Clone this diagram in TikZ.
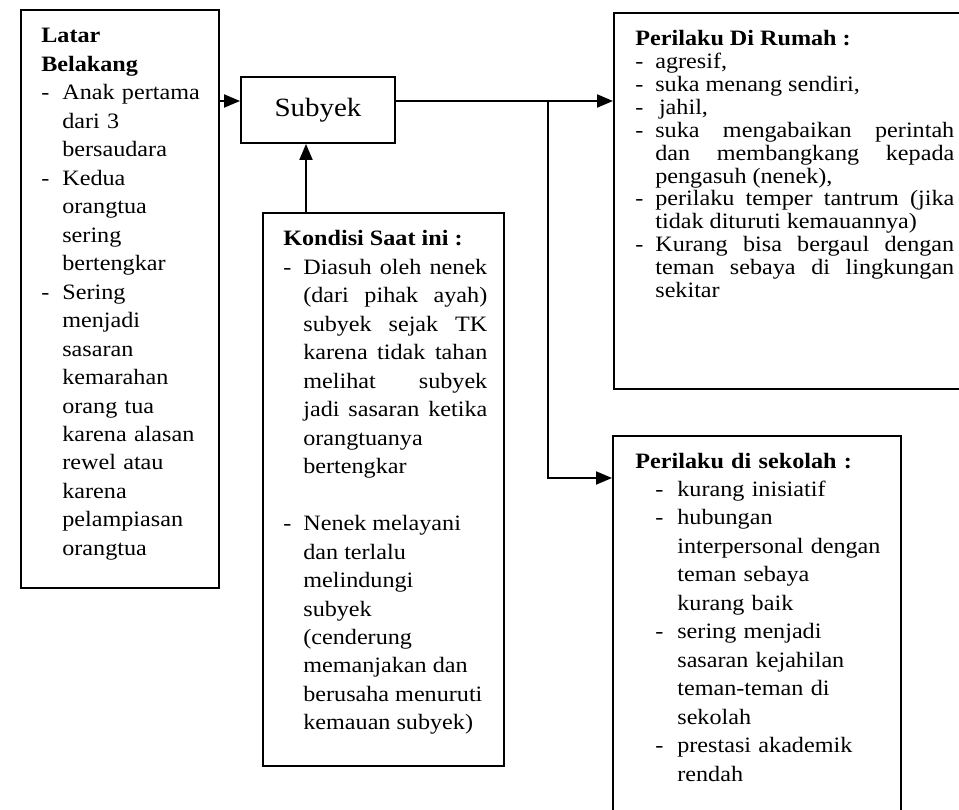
\documentclass[tikz,border=0pt]{standalone}
\usepackage{fontspec}
\setmainfont{Liberation Serif}[FakeStretch=1.1]
\usetikzlibrary{arrows.meta,positioning}
\hyphenpenalty=10000
\lineskiplimit=-10pt
\newcommand{\butir}[2][0.4cm]{\par\hangindent=#1\hangafter=1\noindent\makebox[#1][l]{-}#2\par}

\tikzset{
  kotak/.style={draw,line width=1.1pt,inner sep=0pt,anchor=north west},
  isi/.style={inner sep=0pt,anchor=base west,font=\fontsize{12.5pt}{16.2pt}\selectfont},
  panah/.style={line width=1.1pt,-{Triangle[length=0.32cm,width=0.26cm]}}
}

\begin{document}
\begin{tikzpicture}[x=0.02cm,y=-0.02cm]
  \useasboundingbox (0,0) rectangle (959,810);
  \clip (0,0) rectangle (959,810);
  % kotak-kotak
  \node[kotak,minimum width=3.96cm,minimum height=11.56cm] (latar) at (20,9) {};
  \node[draw,line width=1.1pt,minimum width=3.08cm,minimum height=1.32cm,
        font=\fontsize{15pt}{18pt}\selectfont] (subyek) at (318,110) {Subyek};
  \node[kotak,minimum width=4.82cm,minimum height=11.06cm] (kondisi) at (262,212) {};
  \node[kotak,minimum width=7.4cm,minimum height=7.52cm] (rumah) at (613,12) {};
  \node[kotak,minimum width=5.76cm,minimum height=8.4cm] (sekolah) at (612,435) {};
  % isi kotak
  \node[isi,text width=3.4cm,align=left] (latarisi) at (41,43) {%
    \textbf{Latar}\newline\textbf{Belakang}
    \butir[0.42cm]{Anak pertama\newline dari 3\newline bersaudara}
    \butir[0.42cm]{Kedua\newline orangtua\newline sering\newline bertengkar}
    \butir[0.42cm]{Sering\newline menjadi\newline sasaran\newline kemarahan\newline orang tua\newline
      karena alasan\newline rewel atau\newline karena\newline pelampiasan\newline orangtua}};
  \node[isi,text width=4.08cm,align=justify] (kondisiisi) at (283,246) {%
    \textbf{Kondisi Saat ini :}
    \butir{Diasuh oleh nenek\linebreak (dari pihak ayah)\linebreak subyek sejak TK\linebreak
      karena tidak tahan\linebreak melihat subyek\linebreak jadi sasaran ketika\linebreak
      orangtuanya\newline bertengkar}
    \vskip16.2pt
    \butir{Nenek melayani\newline dan terlalu\newline melindungi\newline subyek\newline
      (cenderung\newline memanjakan dan\newline berusaha menuruti\newline kemauan subyek)}};
  \node[isi,text width=6.38cm,align=justify,
        font=\fontsize{12.5pt}{13pt}\selectfont] (rumahisi) at (635,46) {%
    \textbf{Perilaku Di Rumah :}
    \butir{agresif,}
    \butir{suka menang sendiri,}
    \butir{\,jahil,}
    \butir{suka mengabaikan perintah\linebreak dan membangkang kepada\linebreak pengasuh (nenek),}
    \butir{perilaku temper tantrum (jika\linebreak tidak dituruti kemauannya)}
    \butir{Kurang bisa bergaul dengan\linebreak teman sebaya di lingkungan\linebreak sekitar}};
  \node[isi,text width=5.2cm,align=left] (sekolahisi) at (635,468) {%
    \textbf{Perilaku di sekolah :}\par\leftskip=0.4cm
    \butir[0.44cm]{kurang inisiatif}
    \butir[0.44cm]{hubungan\newline interpersonal dengan\newline teman sebaya\newline kurang baik}
    \butir[0.44cm]{sering menjadi\newline sasaran kejahilan\newline teman-teman di\newline sekolah}
    \butir[0.44cm]{prestasi akademik\newline rendah}};
  % panah
  \coordinate (jalur) at ([yshift=0.18cm]subyek.west);
  \coordinate (cabang) at (548,101);
  \coordinate (naik) at ([xshift=0.88cm]kondisi.north west);
  \draw[panah] (latar.east |- jalur) -- (jalur);
  \draw[panah] (subyek.east |- jalur) -- (rumah.west |- jalur);
  \draw[panah] (cabang) |- ([yshift=-0.86cm]sekolah.north west);
  \draw[panah] (naik) -- (naik |- subyek.south);
\end{tikzpicture}
\end{document}
